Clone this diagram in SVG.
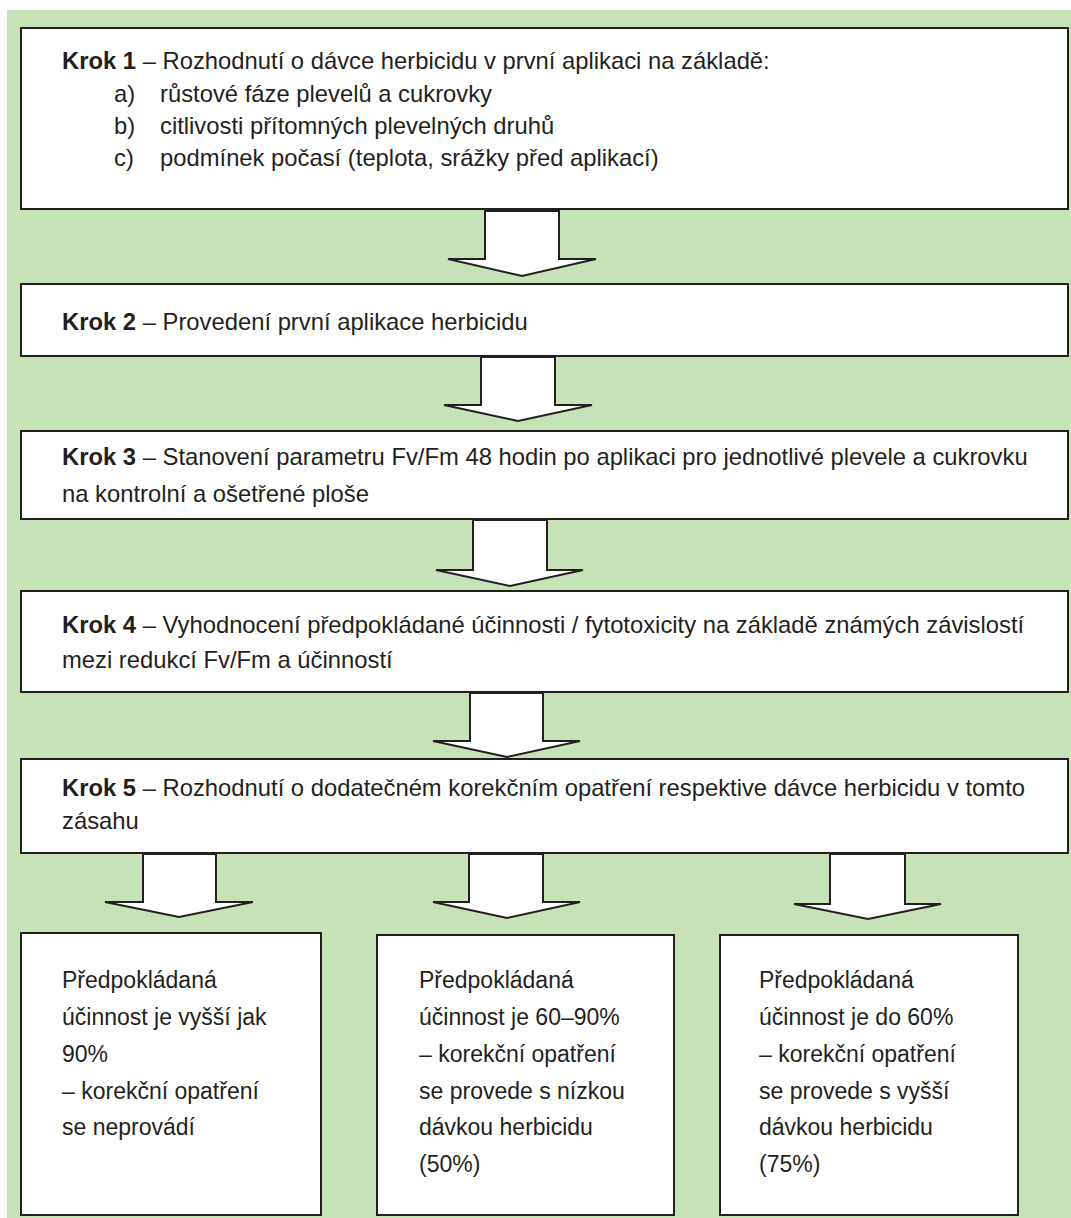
<svg xmlns="http://www.w3.org/2000/svg" width="1071" height="1218" viewBox="0 0 1071 1218">
<style>
.box{fill:#fff;stroke:#231f20;stroke-width:2}
.arr{fill:#fff;stroke:#231f20;stroke-width:2;stroke-linejoin:miter}
text{font-family:"Liberation Sans",Arial,sans-serif;font-size:23.8px;fill:#231f20}
.o text{font-size:23px}
.b{font-weight:bold}
</style>
<rect x="7" y="10" width="1064" height="1208" fill="#c8e2b8"/>
<g id="connectors">
<polygon class="arr" points="485,211 485,259 448,259 522,276 596,259 559,259 559,211"/>
<polygon class="arr" points="481,357 481,405 444,405 518,421 592,405 555,405 555,357"/>
<polygon class="arr" points="473,520 473,570 436,570 510,586 583,570 547,570 547,520"/>
<polygon class="arr" points="470,693 470,741 433,741 507,757 580,741 543,741 543,693"/>
<polygon class="arr" points="143,854 143,902 105,902 179,917 253,902 216,902 216,854"/>
<polygon class="arr" points="469,854 469,902 433,902 507,918 580,902 543,902 543,854"/>
<polygon class="arr" points="830,854 830,904 794,904 868,919 941,904 905,904 905,854"/>
</g>
<g id="step1">
<rect class="box" x="21" y="28" width="1047" height="181"/>
<text x="62" y="69"><tspan class="b">Krok 1</tspan> – Rozhodnutí o dávce herbicidu v první aplikaci na základě:</text>
<text x="114" y="102">a)</text><text x="160" y="102">růstové fáze plevelů a cukrovky</text>
<text x="114" y="134">b)</text><text x="160" y="134">citlivosti přítomných plevelných druhů</text>
<text x="114" y="166">c)</text><text x="160" y="166">podmínek počasí (teplota, srážky před aplikací)</text>
</g>
<g id="step2">
<rect class="box" x="21" y="284" width="1047" height="72"/>
<text x="62" y="330"><tspan class="b">Krok 2</tspan> – Provedení první aplikace herbicidu</text>
</g>
<g id="step3">
<rect class="box" x="21" y="431" width="1047" height="88"/>
<text x="62" y="465"><tspan class="b">Krok 3</tspan> – Stanovení parametru Fv/Fm 48 hodin po aplikaci pro jednotlivé plevele a cukrovku</text>
<text x="62" y="502">na kontrolní a ošetřené ploše</text>
</g>
<g id="step4">
<rect class="box" x="21" y="591" width="1047" height="101"/>
<text x="62" y="633"><tspan class="b">Krok 4</tspan> – Vyhodnocení předpokládané účinnosti / fytotoxicity na základě známých závislostí</text>
<text x="62" y="668">mezi redukcí Fv/Fm a účinností</text>
</g>
<g id="step5">
<rect class="box" x="21" y="759" width="1047" height="94"/>
<text x="62" y="796"><tspan class="b">Krok 5</tspan> – Rozhodnutí o dodatečném korekčním opatření respektive dávce herbicidu v tomto</text>
<text x="62" y="829">zásahu</text>
</g>
<g id="outcome1" class="o">
<rect class="box" x="21" y="933" width="300" height="282"/>
<text x="62" y="988">Předpokládaná</text>
<text x="62" y="1025">účinnost je vyšší jak</text>
<text x="62" y="1062">90%</text>
<text x="62" y="1099">– korekční opatření</text>
<text x="62" y="1135">se neprovádí</text>
</g>
<g id="outcome2" class="o">
<rect class="box" x="377" y="935" width="297" height="280"/>
<text x="419" y="988">Předpokládaná</text>
<text x="419" y="1025">účinnost je 60–90%</text>
<text x="419" y="1062">– korekční opatření</text>
<text x="419" y="1099">se provede s nízkou</text>
<text x="419" y="1135">dávkou herbicidu</text>
<text x="419" y="1172">(50%)</text>
</g>
<g id="outcome3" class="o">
<rect class="box" x="720" y="935" width="298" height="280"/>
<text x="759" y="988">Předpokládaná</text>
<text x="759" y="1025">účinnost je do 60%</text>
<text x="759" y="1062">– korekční opatření</text>
<text x="759" y="1099">se provede s vyšší</text>
<text x="759" y="1135">dávkou herbicidu</text>
<text x="759" y="1172">(75%)</text>
</g>
</svg>
